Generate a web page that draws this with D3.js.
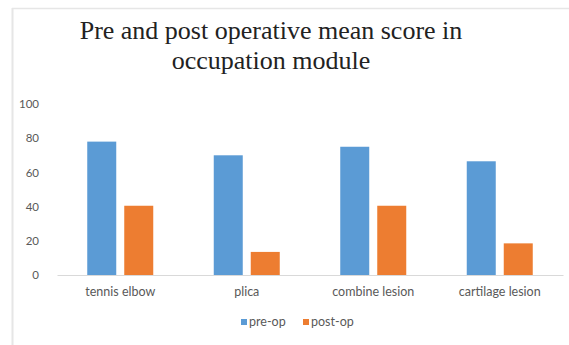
<!DOCTYPE html>
<html>
<head>
<meta charset="utf-8">
<script src="https://cdn.jsdelivr.net/npm/d3@7"></script>
<style>
  html, body { margin: 0; padding: 0; background: #fff; }
  svg { display: block; }
</style>
</head>
<body>
<svg id="chart" width="569" height="345"></svg>
<script>
// Chart data
const categories = ["tennis elbow", "plica", "combine lesion", "cartilage lesion"];
const seriesNames = ["pre-op", "post-op"];
const preOp = [78, 70, 75, 66.5];
const postOp = [40.5, 13.5, 40.5, 18.5];
const yTicks = [0, 20, 40, 60, 80, 100];
const colors = ["#5B9BD5", "#ED7D31"];

const svg = d3.select("#chart");
const W = 569, H = 345;
const margin = { left: 57, right: 6, top: 104, bottom: 70 };
const labelFont = "Lato, 'Open Sans', sans-serif";

// light frame on the top and left edges
svg.append("line").attr("x1", 12).attr("x2", W).attr("y1", 8.5).attr("y2", 8.5)
  .attr("stroke", "#e6e6e6").attr("stroke-width", 1.5);
svg.append("line").attr("x1", 12.5).attr("x2", 12.5).attr("y1", 8).attr("y2", H)
  .attr("stroke", "#e6e6e6").attr("stroke-width", 2);

// title
const title = svg.append("text")
  .attr("text-anchor", "middle")
  .attr("font-family", "'Liberation Serif', 'Times New Roman', serif")
  .attr("font-size", 26)
  .attr("fill", "#222");
title.append("tspan").attr("x", 271).attr("y", 39).text("Pre and post operative mean score in");
title.append("tspan").attr("x", 271).attr("y", 69).text("occupation module");

const x0 = d3.scaleBand().domain(categories).range([margin.left, W - margin.right]).paddingInner(0).paddingOuter(0);
const y = d3.scaleLinear().domain([0, 100]).range([275, 104]);

const barW = 29, gap = 8;
const x1 = d3.scaleBand().domain(seriesNames)
  .range([0, barW * 2 + gap]).paddingInner(gap / (barW + gap)).paddingOuter(0);

// y axis labels only
const yAxis = d3.axisLeft(y).tickValues(yTicks).tickSize(0).tickPadding(0);
const gy = svg.append("g").attr("transform", "translate(39,0)").call(yAxis);
gy.select(".domain").remove();
gy.selectAll("text").attr("font-family", labelFont)
  .attr("font-size", 11.5).attr("fill", "#595959");

// bars
const data = categories.map((c, i) => ({ cat: c, values: [preOp[i], postOp[i]] }));
const groupW = barW * 2 + gap;
const groups = svg.append("g").selectAll("g").data(data).join("g")
  .attr("transform", d => `translate(${x0(d.cat) + (x0.bandwidth() - groupW) / 2},0)`);
groups.selectAll("rect").data(d => d.values.map((v, j) => ({ key: seriesNames[j], v, j })))
  .join("rect")
  .attr("x", d => x1(d.key))
  .attr("width", x1.bandwidth())
  .attr("y", d => y(d.v))
  .attr("height", d => y(0) - y(d.v))
  .attr("fill", d => colors[d.j]);

// x axis
const xAxis = d3.axisBottom(x0).tickSize(0).tickPadding(12);
const gx = svg.append("g").attr("transform", `translate(0,${y(0)})`).call(xAxis);
gx.select(".domain").attr("stroke", "#d9d9d9");
gx.selectAll("text").attr("font-family", labelFont)
  .attr("font-size", 12.5).attr("fill", "#595959");

// legend
const legend = svg.append("g").attr("transform", "translate(241,318)");
const legendX = [0, 62];
seriesNames.forEach((s, i) => {
  const g = legend.append("g").attr("transform", `translate(${legendX[i]},0)`);
  g.append("rect").attr("width", 6).attr("height", 6).attr("y", 1).attr("fill", colors[i]);
  g.append("text").attr("x", 8).attr("y", 8)
    .attr("font-family", labelFont)
    .attr("font-size", 12.5).attr("fill", "#595959").text(s);
});
</script>
</body>
</html>
